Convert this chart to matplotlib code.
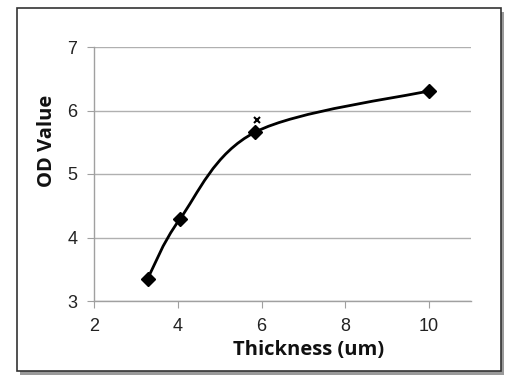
import numpy as np
import matplotlib
matplotlib.use("Agg")
import matplotlib.pyplot as plt
from matplotlib.path import Path
from matplotlib.patches import PathPatch, Rectangle

thickness = [3.28, 4.05, 5.85, 10.0]
od_value = [3.35, 4.29, 5.66, 6.31]
extra_x = [5.9]
extra_y = [5.85]
x_ticks = [2, 4, 6, 8, 10]
y_ticks = [3, 4, 5, 6, 7]

fig = plt.figure(figsize=(5.13, 3.82), dpi=100)

# frame with shadow
fig.patches.append(Rectangle((20/513, 1 - 375/382), 484/513, 363/382, transform=fig.transFigure,
                             facecolor="#9a9a9a", edgecolor="none", zorder=-3))
fig.patches.append(Rectangle((17/513, 1 - 371/382), 484/513, 363/382, transform=fig.transFigure,
                             facecolor="white", edgecolor="#333333", linewidth=1.2, zorder=-2))

ax = fig.add_axes([94/513, 1 - 301/382, (471 - 94)/513, (301 - 47)/382])
ax.set_facecolor("none")
ax.set_xlim(2, 11)
ax.set_ylim(3, 7)
ax.set_xticks(x_ticks)
ax.set_yticks(y_ticks)
ax.grid(axis="y", color="#b0b0b0", linewidth=1.0)
ax.set_axisbelow(True)
for s in ["top", "right"]:
    ax.spines[s].set_visible(False)
for s in ["left", "bottom"]:
    ax.spines[s].set_color("#a0a0a0")
    ax.spines[s].set_linewidth(1.0)
ax.tick_params(axis="both", direction="out", length=5, color="#a0a0a0",
               labelsize=13, pad=7)
for lab in ax.get_xticklabels() + ax.get_yticklabels():
    lab.set_fontfamily("Liberation Sans")
    lab.set_color("#222222")

# smoothed curve (Catmull-Rom Bezier, like Excel smoothing)
P = np.column_stack([thickness, od_value])
n = len(P)
verts = [tuple(P[0])]
codes = [Path.MOVETO]
for i in range(n - 1):
    p0 = P[i - 1] if i > 0 else P[i]
    p1 = P[i]
    p2 = P[i + 1]
    p3 = P[i + 2] if i + 2 < n else P[i + 1]
    c1 = p1 + (p2 - p0) / 6.0
    c2 = p2 - (p3 - p1) / 6.0
    verts += [tuple(c1), tuple(c2), tuple(p2)]
    codes += [Path.CURVE4] * 3
ax.add_patch(PathPatch(Path(verts, codes), facecolor="none", edgecolor="black",
                       linewidth=2.0, zorder=3))
ax.plot(thickness, od_value, linestyle="none", marker="D", markersize=7,
        color="black", zorder=4)
ax.plot(extra_x, extra_y, linestyle="none", marker="x", markersize=5,
        markeredgewidth=1.5, color="black", zorder=4)

ax.set_xlabel("Thickness (um)", fontfamily="Open Sans", fontweight="bold",
              fontsize=14.5, color="#111111", va="center")
ax.xaxis.set_label_coords(0.570, -0.193)
ax.set_ylabel("OD Value", fontfamily="Open Sans", fontweight="bold",
              fontsize=14.5, color="#111111", va="center")
ax.yaxis.set_label_coords(-0.125, 0.63)

fig.savefig("out.png", dpi=100)
